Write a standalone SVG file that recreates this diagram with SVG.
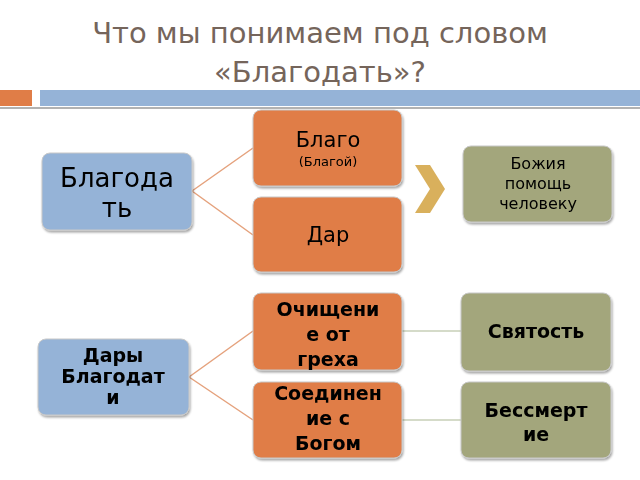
<svg xmlns="http://www.w3.org/2000/svg" width="640" height="480" viewBox="0 0 640 480">
<defs>
<style>
text{font-family:"DejaVu Sans","Noto Sans",sans-serif;fill:#000;text-anchor:middle}
.t{fill:#75655b;font-size:29px}
.blue{fill:#95b3d7}.or{fill:#e07d47}.ol{fill:#a3a67c}
.n rect{stroke:#c8c8c8;stroke-width:1}
.n{filter:url(#sh)}
.b{font-weight:bold;font-size:19px}
</style>
<filter id="sh" x="-10%" y="-10%" width="120%" height="130%"><feDropShadow dx="1" dy="2" stdDeviation="1.2" flood-color="#000" flood-opacity="0.35"/></filter>
</defs>
<rect width="640" height="480" fill="#fff"/>
<text class="t" x="320" y="43">Что мы понимаем под словом</text>
<text class="t" x="320" y="82">«Благодать»?</text>
<rect x="0" y="90" width="32" height="16" fill="#e07d47"/>
<rect x="40" y="90" width="600" height="16" fill="#95b3d7"/>
<line x1="0" y1="108" x2="640" y2="108" stroke="#999" stroke-width="1.5"/>
<g id="connectors" fill="none">
<path d="M192 191 L253 148 M192 191 L253 235 M189 377 L253 331 M189 377 L253 420" stroke="#e5a27d" stroke-width="1.5"/>
<path d="M402 331 H461 M402 420 H461" stroke="#c7d0b8" stroke-width="1.5"/>
</g>
<g id="n1" class="n"><rect class="blue" x="42" y="153" width="150" height="77" rx="8"/><text x="117" y="187" font-size="26">Благода</text><text x="117" y="217" font-size="26">ть</text></g>
<g id="n2" class="n"><rect class="or" x="253" y="110" width="149" height="76" rx="8"/><text x="328" y="147" font-size="21">Благо</text><text x="328" y="166" font-size="13">(Благой)</text></g>
<g id="n3" class="n"><rect class="or" x="253" y="197" width="149" height="75" rx="8"/><text x="328" y="242" font-size="21">Дар</text></g>
<g id="chev"><polygon points="415,165 430,165 445,189 430,213 415,213 430,189" fill="#d9b05c"/></g>
<g id="n4" class="n"><rect class="ol" x="463" y="146" width="149" height="76" rx="8"/><text x="538" y="169" font-size="16">Божия</text><text x="538" y="189" font-size="16">помощь</text><text x="538" y="209" font-size="16">человеку</text></g>
<g id="n5" class="n"><rect class="blue" x="38" y="339" width="151" height="76" rx="8"/><text class="b" x="113" y="362">Дары</text><text class="b" x="113" y="383">Благодат</text><text class="b" x="113" y="404">и</text></g>
<g id="n6" class="n"><rect class="or" x="253" y="293" width="149" height="77" rx="8"/><text class="b" x="328" y="316">Очищени</text><text class="b" x="328" y="341">е  от</text><text class="b" x="328" y="366">греха</text></g>
<g id="n7" class="n"><rect class="or" x="253" y="382" width="149" height="76" rx="8"/><text class="b" x="328" y="400">Соединен</text><text class="b" x="328" y="425">ие с</text><text class="b" x="328" y="450">Богом</text></g>
<g id="n8" class="n"><rect class="ol" x="461" y="293" width="150" height="78" rx="8"/><text class="b" x="536" y="338">Святость</text></g>
<g id="n9" class="n"><rect class="ol" x="461" y="382" width="150" height="76" rx="8"/><text class="b" x="536" y="417">Бессмерт</text><text class="b" x="536" y="441">ие</text></g>
</svg>
